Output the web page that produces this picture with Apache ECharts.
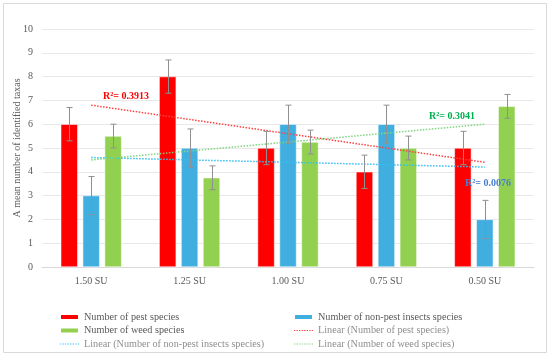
<!DOCTYPE html>
<html><head><meta charset="utf-8">
<script src="https://cdn.jsdelivr.net/npm/echarts@6/dist/echarts.min.js"></script>
<style>html,body{margin:0;padding:0;background:#fff}#c{width:550px;height:357px}</style>
</head><body><div id="c"></div>
<script>
const categories = ['1.50 SU','1.25 SU','1.00 SU','0.75 SU','0.50 SU'];
const pest = [6, 8, 5, 4, 5];
const nonPest = [3, 5, 6, 6, 2];
const weed = [5.5, 3.75, 5.25, 5, 6.75];
const pestErr = [0.7, 0.7, 0.7, 0.7, 0.7];
const nonPestErr = [0.8, 0.8, 0.8, 0.8, 0.8];
const weedErr = [0.5, 0.5, 0.5, 0.5, 0.5];
const r2Labels = ['R\u00b2= 0.3913', 'R\u00b2= 0.0076', 'R\u00b2= 0.3041'];
const yTicks = [0,1,2,3,4,5,6,7,8,9,10];

const FONT = 'Liberation Serif';
const TXT = '#595959';
const TXT2 = '#8f8f8f';
function trend(vals){
  const n = vals.length, xs = vals.map((_, i) => i + 1);
  const mx = xs.reduce((a,b)=>a+b,0)/n, my = vals.reduce((a,b)=>a+b,0)/n;
  let sxy=0, sxx=0; xs.forEach((x,i)=>{sxy+=(x-mx)*(vals[i]-my); sxx+=(x-mx)*(x-mx);});
  const b = sxy/sxx, a = my - b*mx;
  return xs.map(x => +(a + b*x).toFixed(4));
}
const BW = 17, STEP = 22;
function errSeries(vals, errs, idx){
  return {
    type:'custom', silent:true, z:5,
    data: vals.map((v,i)=>[i, v-errs[i], v+errs[i]]),
    renderItem(params, api){
      const off = (idx-1)*STEP;
      const lo = api.coord([api.value(0), api.value(1)]);
      const hi = api.coord([api.value(0), api.value(2)]);
      const x = Math.round(lo[0] + off) + 0.5;
      const st = {stroke:'#909090', lineWidth:1};
      return {type:'group', children:[
        {type:'line', shape:{x1:x,y1:lo[1],x2:x,y2:hi[1]}, style:st},
        {type:'line', shape:{x1:x-3,y1:lo[1],x2:x+3,y2:lo[1]}, style:st},
        {type:'line', shape:{x1:x-3,y1:hi[1],x2:x+3,y2:hi[1]}, style:st}
      ]};
    }
  };
}
const chart = echarts.init(document.getElementById('c'), null, {renderer:'canvas'});
const names = ['Number of pest species','Number of non-pest insects species','Number of weed species',
  'Linear (Number of pest species)','Linear (Number of non-pest insects species)','Linear (Number of weed species)'];
const legendText = {fontFamily:FONT, fontSize:10.2, color:TXT, lineHeight:12};
const dotIcon = 'path://M0,0h1.2v1h-1.2zM2.4,0h1.2v1h-1.2zM4.8,0h1.2v1h-1.2zM7.2,0h1.2v1h-1.2zM9.6,0h1.2v1h-1.2zM12,0h1.2v1h-1.2zM14.4,0h1.2v1h-1.2zM16.8,0h1.2v1h-1.2z';
const lineItem = (n, c) => ({name:n, icon:dotIcon, itemStyle:{color:c}, textStyle:{color:TXT2}});
chart.setOption({
  animation:false,
  graphic:[
    {type:'rect', z:-10, shape:{x:3.5,y:3.5,width:543,height:349}, style:{fill:'none', stroke:'#d9d9d9', lineWidth:1}},
    {type:'text', z:100, left:103, top:91, style:{text:r2Labels[0], fill:'#ff0000', font:'bold 10px "Liberation Serif"'}},
    {type:'text', z:100, left:429, top:111, style:{text:r2Labels[2], fill:'#00b050', font:'bold 10px "Liberation Serif"'}},
    {type:'text', z:100, left:465, top:178, style:{text:r2Labels[1], fill:'#4a7fcf', font:'bold 10px "Liberation Serif"'}}
  ],
  grid:{left:42, right:16, top:29, bottom:90, outerBoundsMode:'none', containLabel:false},
  legend:[
    {orient:'vertical', left:59, top:311, height:60, padding:0, itemWidth:19, itemHeight:6, itemGap:1.5, textStyle:legendText,
     data:[names[0], names[2], lineItem(names[4], '#33bff0')]},
    {orient:'vertical', left:293, top:311, height:60, padding:0, itemWidth:19, itemHeight:6, itemGap:1.5, textStyle:legendText,
     data:[names[1], lineItem(names[3], '#ff4040'), lineItem(names[5], '#7ed67e')]}
  ],
  xAxis:{type:'category', data:categories,
    axisLine:{lineStyle:{color:'#d9d9d9'}}, axisTick:{show:false},
    axisLabel:{fontFamily:FONT, fontSize:10, color:TXT, margin:9}},
  yAxis:{type:'value', min:yTicks[0], max:yTicks[yTicks.length-1], interval:1,
    name:'A mean number of identified taxas', nameLocation:'middle', nameGap:20, nameMoveOverlap:false,
    nameTextStyle:{fontFamily:FONT, fontSize:10, color:TXT},
    axisLine:{show:false}, axisTick:{show:false},
    axisLabel:{fontFamily:FONT, fontSize:10, color:TXT, margin:9},
    splitLine:{lineStyle:{color:'#e8e8e8'}}},
  series:[
    {name:names[0], type:'bar', data:pest, barWidth:BW, barGap:'29%', itemStyle:{color:'#ff0000', borderColor:'#ffffff', borderWidth:0.5}},
    {name:names[1], type:'bar', data:nonPest, barWidth:BW, barGap:'29%', itemStyle:{color:'#41aee0', borderColor:'#ffffff', borderWidth:0.5}},
    {name:names[2], type:'bar', data:weed, barWidth:BW, barGap:'29%', itemStyle:{color:'#92d050', borderColor:'#ffffff', borderWidth:0.5}},
    {name:names[3], type:'line', data:trend(pest), symbol:'none', z:4, lineStyle:{color:'#ff4040', width:1.5, type:[1.5,1.5]}, itemStyle:{color:'#ff4040'}},
    {name:names[4], type:'line', data:trend(nonPest), symbol:'none', z:4, lineStyle:{color:'#33bff0', width:1.5, type:[1.5,1.5]}, itemStyle:{color:'#33bff0'}},
    {name:names[5], type:'line', data:trend(weed), symbol:'none', z:4, lineStyle:{color:'#7ed67e', width:1.5, type:[1.5,1.5]}, itemStyle:{color:'#7ed67e'}},
    errSeries(pest, pestErr, 0),
    errSeries(nonPest, nonPestErr, 1),
    errSeries(weed, weedErr, 2)
  ]
});
</script></body></html>
